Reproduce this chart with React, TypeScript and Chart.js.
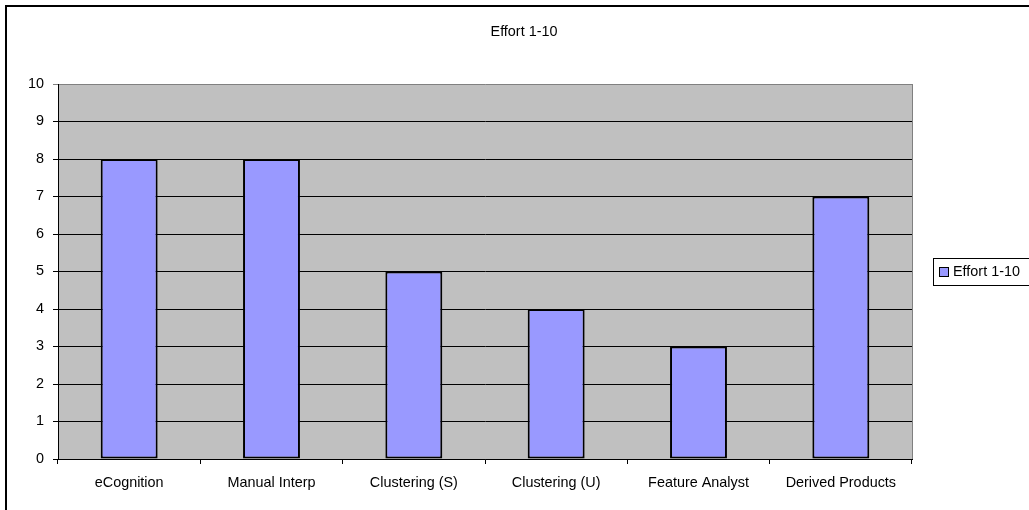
import React, { useEffect, useRef } from "react";
import { Chart, registerables } from "chart.js";

Chart.register(...registerables);

const categories = [
  "eCognition",
  "Manual Interp",
  "Clustering (S)",
  "Clustering (U)",
  "Feature Analyst",
  "Derived Products",
];
const effortValues = [8, 8, 5, 4, 3, 7];
const seriesLabel = "Effort 1-10";
const chartTitle = "Effort 1-10";
const yMin = 0;
const yMax = 10;
const yStep = 1;

const FONT = "'Liberation Sans', Arial, sans-serif";
const FONT_SIZE = 14.4;

const decorPlugin = {
  id: "decor",
  beforeDraw(chart: any) {
    const { ctx, chartArea } = chart;
    ctx.save();
    ctx.fillStyle = "#ffffff";
    ctx.fillRect(0, 0, chart.width, chart.height);
    // outer frame (top & left visible)
    ctx.strokeStyle = "#000000";
    ctx.lineWidth = 2;
    ctx.beginPath();
    ctx.moveTo(6, chart.height + 10);
    ctx.lineTo(6, 6);
    ctx.lineTo(chart.width + 10, 6);
    ctx.stroke();
    // plot background
    ctx.fillStyle = "#C0C0C0";
    ctx.fillRect(
      chartArea.left,
      chartArea.top,
      chartArea.right - chartArea.left,
      chartArea.bottom - chartArea.top
    );
    ctx.restore();
  },
  afterDraw(chart: any) {
    const { ctx, chartArea } = chart;
    ctx.save();
    // right plot border
    ctx.strokeStyle = "#808080";
    ctx.lineWidth = 1;
    ctx.beginPath();
    ctx.moveTo(chartArea.right + 0.5, chartArea.top);
    ctx.lineTo(chartArea.right + 0.5, chartArea.bottom);
    ctx.stroke();
    // title
    ctx.fillStyle = "#000000";
    ctx.font = `${FONT_SIZE}px ${FONT}`;
    ctx.textAlign = "center";
    ctx.textBaseline = "alphabetic";
    ctx.fillText(chartTitle, 524, 36);
    // legend
    const ds = chart.data.datasets[0];
    ctx.fillStyle = "#ffffff";
    ctx.fillRect(933, 258, 120, 27);
    ctx.strokeStyle = "#000000";
    ctx.lineWidth = 1;
    ctx.strokeRect(933.5, 258.5, 120, 27);
    ctx.fillStyle = ds.backgroundColor;
    ctx.fillRect(939, 267, 9, 9);
    ctx.strokeRect(939.5, 267.5, 9, 9);
    ctx.fillStyle = "#000000";
    ctx.textAlign = "left";
    ctx.fillText(ds.label, 953, 276);
    ctx.restore();
  },
};

export default function App() {
  const canvasRef = useRef<HTMLCanvasElement | null>(null);

  useEffect(() => {
    if (!canvasRef.current) return;
    const chart = new Chart(canvasRef.current, {
      type: "bar",
      data: {
        labels: categories,
        datasets: [
          {
            label: seriesLabel,
            data: effortValues,
            backgroundColor: "#9999FF",
            borderColor: "#000000",
            borderWidth: 2,
            borderSkipped: false,
            barPercentage: 0.4,
            categoryPercentage: 1,
          },
        ],
      },
      options: {
        responsive: false,
        animation: false,
        devicePixelRatio: 1,
        layout: { padding: { left: 0, top: 84, right: 117, bottom: 0 } },
        plugins: {
          legend: { display: false },
          title: { display: false },
          tooltip: { enabled: false },
        },
        scales: {
          x: {
            offset: true,
            afterFit: (scale: any) => {
              scale.height = 51;
            },
            grid: {
              offset: true,
              drawOnChartArea: false,
              drawTicks: true,
              tickLength: 5,
              color: "#000000",
            },
            border: { display: true, color: "#000000", width: 1 },
            ticks: {
              color: "#000000",
              font: { family: FONT, size: FONT_SIZE },
              padding: 10,
              maxRotation: 0,
              autoSkip: false,
            },
          },
          y: {
            min: yMin,
            max: yMax,
            afterFit: (scale: any) => {
              scale.width = 58;
            },
            grid: {
              color: (c: any) =>
                c.tick && c.tick.value === yMax ? "#808080" : "#000000",
              drawTicks: true,
              tickLength: 5,
            },
            border: { display: true, color: "#000000", width: 1 },
            ticks: {
              stepSize: yStep,
              color: "#000000",
              font: { family: FONT, size: FONT_SIZE },
              padding: 9,
            },
          },
        },
      },
      plugins: [decorPlugin],
    });
    return () => chart.destroy();
  }, []);

  return (
    <div
      style={{
        position: "fixed",
        left: 0,
        top: 0,
        width: 1029,
        height: 510,
        background: "#ffffff",
        overflow: "hidden",
      }}
    >
      <canvas ref={canvasRef} width={1029} height={510} />
    </div>
  );
}
